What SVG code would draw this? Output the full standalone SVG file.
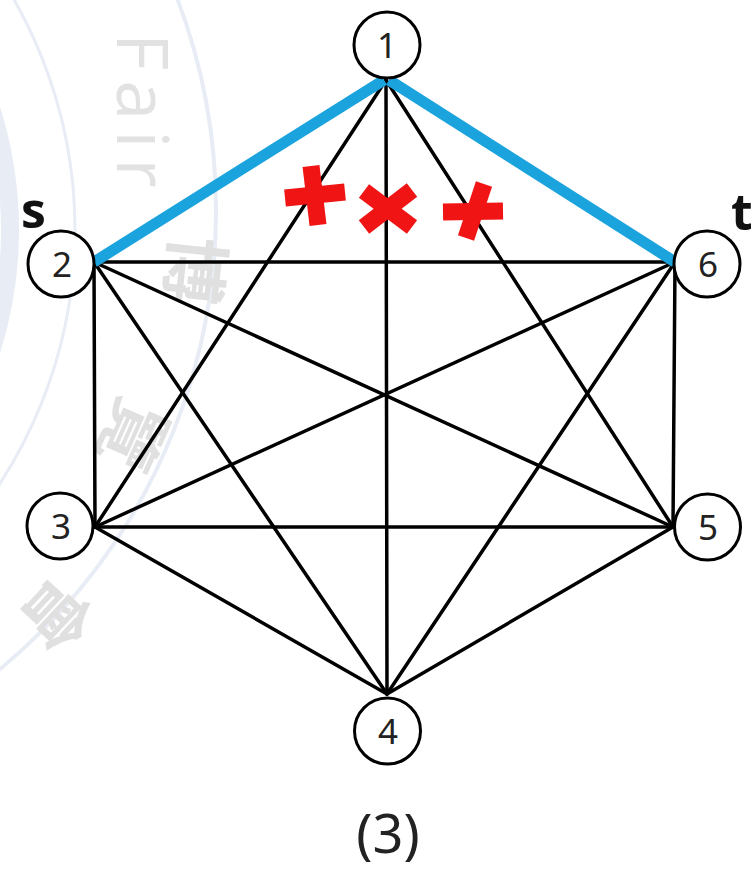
<svg xmlns="http://www.w3.org/2000/svg" width="751" height="869" viewBox="0 0 751 869">
<style>
.wm-arc{fill:none;stroke:#e8ecf5}
.wm-txt{fill:#e2e2e2;font-family:"Open Sans","Noto Sans",sans-serif}
.wm-cjk{fill:#e0e0e0;font-family:"Noto Sans CJK TC","Noto Sans CJK SC",sans-serif;font-weight:bold}
.edge{stroke:#000;stroke-width:3.5;stroke-linecap:round}
.path{stroke:#1ba3dd;stroke-width:11;stroke-linecap:butt}
.node circle{fill:#fff;stroke:#000;stroke-width:3}
.node text{font-family:"Noto Sans","Open Sans",sans-serif;font-size:35px;fill:#222;text-anchor:middle}
.lbl{font-family:"Open Sans","Noto Sans",sans-serif;font-weight:bold;font-size:50px;fill:#111}
.cut{stroke:#f01414;stroke-width:17;stroke-linecap:butt}
</style>
<rect width="751" height="869" fill="#fff"/>
<g id="watermark">
  <circle class="wm-arc" cx="-380" cy="210" r="596" stroke-width="4"/>
  <circle class="wm-arc" cx="-390" cy="230" r="465" stroke-width="3"/>
  <circle class="wm-arc" cx="-390" cy="230" r="400" stroke-width="18"/>
  <text class="wm-txt" font-size="72" letter-spacing="10" transform="translate(117,33) rotate(90)">Fair</text>
  <text class="wm-cjk" font-size="68" text-anchor="middle" transform="translate(170,268) rotate(96)">博</text>
  <text class="wm-cjk" font-size="68" text-anchor="middle" transform="translate(110,425) rotate(114)">覽</text>
  <text class="wm-cjk" font-size="68" text-anchor="middle" transform="translate(38,598) rotate(133)">會</text>
</g>
<g id="connectors">
  <line class="edge" x1="386" y1="80" x2="95" y2="527"/>
  <line class="edge" x1="386" y1="80" x2="387" y2="694"/>
  <line class="edge" x1="386" y1="80" x2="673" y2="527"/>
  <line class="edge" x1="94" y1="262" x2="675" y2="262"/>
  <line class="edge" x1="94" y1="262" x2="95" y2="527"/>
  <line class="edge" x1="94" y1="262" x2="387" y2="694"/>
  <line class="edge" x1="94" y1="262" x2="673" y2="527"/>
  <line class="edge" x1="95" y1="527" x2="387" y2="694"/>
  <line class="edge" x1="95" y1="527" x2="673" y2="527"/>
  <line class="edge" x1="95" y1="527" x2="675" y2="262"/>
  <line class="edge" x1="387" y1="694" x2="673" y2="527"/>
  <line class="edge" x1="387" y1="694" x2="675" y2="262"/>
  <line class="edge" x1="673" y1="527" x2="675" y2="262"/>
  <line class="path" x1="384" y1="80" x2="94" y2="262"/>
  <line class="path" x1="389" y1="80" x2="675" y2="262"/>
</g>
<g id="cuts">
  <line class="cut" x1="285" y1="198" x2="345" y2="192"/>
  <line class="cut" x1="311" y1="166" x2="318" y2="225"/>
  <line class="cut" x1="364" y1="191" x2="412" y2="227"/>
  <line class="cut" x1="412" y1="190" x2="364" y2="227"/>
  <line class="cut" x1="443" y1="212" x2="503" y2="211"/>
  <line class="cut" x1="484" y1="184" x2="466" y2="238"/>
</g>
<g id="node1" class="node"><circle cx="387" cy="45" r="33"/><text x="387" y="58">1</text></g>
<g id="node2" class="node"><circle cx="61" cy="264" r="33"/><text x="62" y="277">2</text></g>
<g id="node3" class="node"><circle cx="60" cy="526" r="33"/><text x="61" y="539">3</text></g>
<g id="node4" class="node"><circle cx="387.5" cy="731" r="33"/><text x="388" y="744">4</text></g>
<g id="node5" class="node"><circle cx="707.5" cy="527" r="33"/><text x="708" y="540">5</text></g>
<g id="node6" class="node"><circle cx="707" cy="264" r="33"/><text x="708" y="277">6</text></g>
<text class="lbl" x="21" y="228">s</text>
<text class="lbl" x="731" y="230">t</text>
<text x="388" y="853" font-family="Noto Sans, Open Sans, sans-serif" font-size="54" fill="#222" text-anchor="middle">(3)</text>
</svg>
